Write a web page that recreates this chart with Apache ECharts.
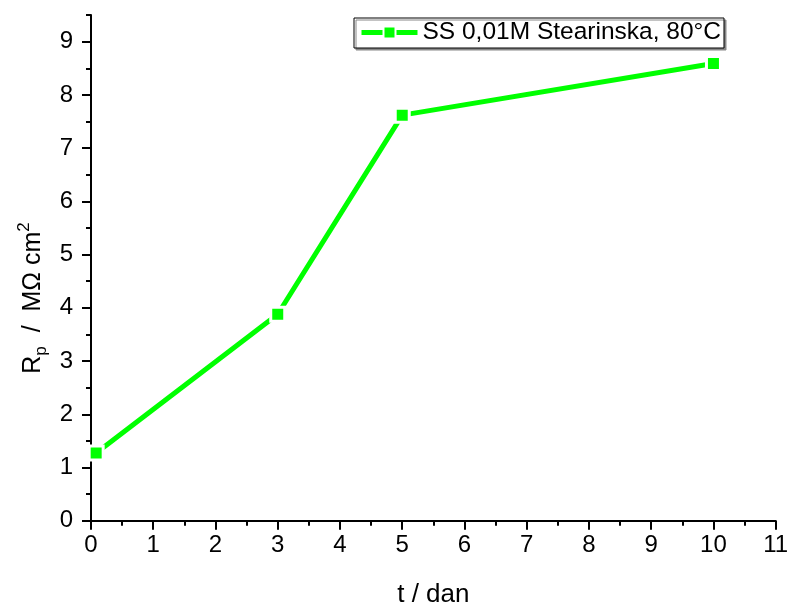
<!DOCTYPE html>
<html>
<head>
<meta charset="utf-8">
<script src="https://cdn.jsdelivr.net/npm/echarts@6/dist/echarts.min.js"></script>
<style>
html,body{margin:0;padding:0;background:#fff;}
#chart{width:790px;height:604px;}
</style>
</head>
<body>
<div id="chart"></div>
<script>
const seriesName = 'SS 0,01M Stearinska, 80°C';
const tDays = [0.083, 3, 5, 10];
const rpValues = [1.27, 3.88, 7.62, 8.59];
const xTicks = [0, 1, 2, 3, 4, 5, 6, 7, 8, 9, 10, 11];
const yTicks = [0, 1, 2, 3, 4, 5, 6, 7, 8, 9];
const yMinorTicks = [0.5, 1.5, 2.5, 3.5, 4.5, 5.5, 6.5, 7.5, 8.5, 9.5];
const xName = 't / dan';

const FONT = '"Liberation Sans", Arial, sans-serif';
const GREEN = '#00ff00';

const chart = echarts.init(document.getElementById('chart'), null, {renderer: 'canvas'});
chart.setOption({
  backgroundColor: '#fff',
  animation: false,
  textStyle: {fontFamily: FONT},
  grid: {left: 91, right: 14.3, top: 15.1, bottom: 83.3, containLabel: false, outerBoundsMode: 'none'},
  legend: {
    left: 354, top: 18,
    orient: 'horizontal',
    padding: [2, 3, 3, 5],
    borderColor: '#000', borderWidth: 1,
    backgroundColor: '#fff',
    shadowColor: '#888', shadowOffsetX: 2, shadowOffsetY: 2, shadowBlur: 0,
    itemWidth: 56, itemHeight: 15,
    lineStyle: {width: 5},
    textStyle: {fontSize: 24.5, color: '#000', fontFamily: FONT, lineHeight: 24},
    data: [seriesName]
  },
  xAxis: {
    type: 'value', min: xTicks[0], max: xTicks[xTicks.length - 1], interval: 1,
    name: xName, nameLocation: 'middle', nameGap: 61,
    nameTextStyle: {fontSize: 26, color: '#000', fontFamily: FONT},
    axisLine: {show: true, onZero: false, lineStyle: {color: '#000', width: 2}},
    axisTick: {show: true, inside: false, length: 9, lineStyle: {color: '#000', width: 2}},
    minorTick: {show: true, splitNumber: 2, length: 5, lineStyle: {color: '#000', width: 2}},
    axisLabel: {fontSize: 24, color: '#000', margin: 13, fontFamily: FONT,
      customValues: xTicks},
    splitLine: {show: false}, minorSplitLine: {show: false}
  },
  yAxis: [{
    type: 'value', min: 0, max: 9.5, interval: 1, position: 'left',
    axisLine: {show: true, onZero: false, lineStyle: {color: '#000', width: 2}},
    axisTick: {show: true, inside: false, length: 9, lineStyle: {color: '#000', width: 2},
      customValues: yTicks},
    axisLabel: {fontSize: 24, color: '#000', margin: 18, fontFamily: FONT,
      customValues: yTicks},
    splitLine: {show: false}
  }, {
    type: 'value', min: 0, max: 9.5, interval: 1, position: 'left', offset: 0,
    axisLine: {show: false},
    axisTick: {show: true, inside: false, length: 5, lineStyle: {color: '#000', width: 2},
      customValues: yMinorTicks},
    axisLabel: {show: false},
    splitLine: {show: false}
  }],
  graphic: [{
    type: 'text',
    x: 33, y: 298,
    rotation: Math.PI / 2,
    style: {
      text: '{m|R}{sub|p}{m|  /  MΩ cm}{sup|2}',
      align: 'center', verticalAlign: 'middle',
      fill: '#000',
      rich: {
        m: {fontSize: 25, fontFamily: FONT, fill: '#000', lineHeight: 34, verticalAlign: 'middle'},
        sub: {fontSize: 17, fontFamily: FONT, fill: '#000', lineHeight: 17, verticalAlign: 'bottom'},
        sup: {fontSize: 17, fontFamily: FONT, fill: '#000', lineHeight: 17, verticalAlign: 'top'}
      }
    }
  }],
  series: [{
    name: seriesName,
    type: 'line',
    yAxisIndex: 0,
    data: tDays.map((t, i) => [t, rpValues[i]]),
    symbol: 'rect',
    symbolSize: 14,
    itemStyle: {color: GREEN, borderColor: '#fff', borderWidth: 3},
    lineStyle: {color: GREEN, width: 5},
    z: 3
  }]
});
</script>
</body>
</html>
